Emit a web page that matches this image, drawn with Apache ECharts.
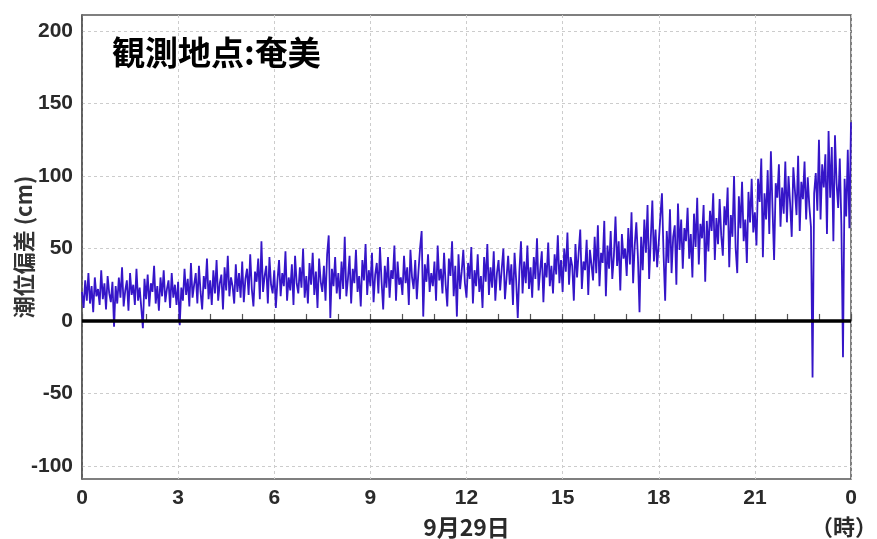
<!DOCTYPE html>
<html><head><meta charset="utf-8">
<script src="https://cdn.jsdelivr.net/npm/echarts@6/dist/echarts.min.js"></script>
<style>html,body{margin:0;padding:0;background:#fff}#c{width:877px;height:539px}</style>
</head><body><div id="c"></div>
<script>
// tide deviation (cm), 3-minute samples, Sep 29 0:00 -> 24:00
const h00_03 = [20, 9, 28, 14, 33, 12, 24, 6, 30, 17, 22, 11, 35, 15, 26, 8, 31, 19, 13, 27,
  -4, 24, 12, 30, 16, 37, 10, 21, 28, 7, 33, 18, 25, 11, 36, 14, 23, 9, -5, 29,
  15, 32, 10, 26, 20, 38, 12, 24, 7, 30, 17, 35, 13, 22, 28, 9, 33, 16, 25, 11];
const h03_06 = [27, -3, 23, 14, 36, 18, 29, 10, 40, 16, 25, 33, 12, 38, 20, 8, 31, 22, 43, 15,
  28, 11, 35, 19, 42, 14, 26, 32, 8, 37, 21, 45, 17, 30, 24, 12, 39, 20, 33, 16,
  41, 13, 29, 36, 18, 46, 22, 10, 34, 27, 43, 15, 55, 20, 31, 38, 12, 44, 25, 19];
const h06_09 = [35, 9, 28, 42, 17, 33, 24, 48, 14, 30, 21, 39, 11, 45, 26, 19, 37, 23, 50, 16,
  31, 12, 40, 25, 47, 18, 34, 9, 43, 27, 20, 38, 14, 46, 59, 2, 36, 24, 44, 19,
  33, 15, 41, 22, 58, 17, 29, 45, 12, 36, 26, 49, 20, 31, 10, 42, 28, 53, 18, 35];
const h09_12 = [24, 47, 13, 32, 40, 19, 51, 27, 8, 38, 23, 44, 16, 35, 29, 52, 14, 41, 25, 30,
  18, 45, 26, 37, 11, 49, 30, 22, 42, 15, 34, 50, 62, 3, 39, 27, 46, 20, 33, 24,
  41, 14, 52, 28, 36, 19, 47, 25, 10, 43, 31, 55, 17, 38, 3, 46, 22, 34, 49, 26];
const h12_15 = [16, 40, 29, 51, 12, 35, 24, 46, 20, 31, 9, 44, 27, 53, 18, 37, 23, 48, 14, 33,
  42, 21, 36, 50, 15, 30, 45, 25, 39, 11, 47, 28, 2, 34, 55, 19, 41, 26, 52, 22,
  37, 16, 44, 29, 57, 21, 35, 48, 13, 40, 30, 54, 24, 38, 19, 46, 32, 59, 26, 42];
const h15_18 = [20, 50, 34, 61, 25, 44, 38, 14, 53, 30, 47, 63, 22, 41, 35, 56, 18, 49, 39, 28,
  58, 33, 66, 24, 47, 40, 69, 17, 52, 36, 62, 29, 45, 72, 38, 55, 21, 60, 43, 50,
  31, 64, 39, 75, 26, 52, 68, 44, 6, 58, 35, 70, 47, 80, 29, 56, 83, 41, 63, 37];
const h18_21 = [54, 72, 88, 46, 14, 62, 40, 77, 33, 58, 66, 25, 81, 49, 70, 36, 64, 55, 78, 43,
  60, 30, 74, 51, 85, 39, 67, 57, 80, 27, 69, 48, 76, 62, 88, 42, 71, 53, 84, 59,
  45, 79, 66, 92, 37, 73, 58, 100, 50, 33, 86, 64, 96, 55, 70, 40, 89, 68, 98, 61];
const h21_24 = [75, 52, 98, 82, 112, 44, 88, 70, 104, 60, 117, 78, 42, 95, 85, 108, 65, 92, 74, 110,
  68, 100, 81, 58, 106, 90, 73, 114, 62, 96, 84, 110, 70, 99, 79, 65, -39, 88, 102, 76,
  125, 70, 108, 92, 115, 60, 131, 85, 120, 55, 128, 95, 78, 112, 66, -25, 98, 72, 118, 64];
const end24 = [137];
const stepMinutes = 3;
const yTickValues = [-100, -50, 0, 50, 100, 150, 200];
const titleText = '観測地点:奄美';
const yName = '潮位偏差 (cm)';
const xName = '9月29日';
const unitText = '（時）';

const values = [].concat(h00_03, h03_06, h06_09, h09_12, h12_15, h15_18, h18_21, h21_24, end24);
const seriesData = values.map((v, i) => [i * stepMinutes / 60, v]);

const chart = echarts.init(document.getElementById('c'), null, {renderer: 'canvas'});
const labelFont = {color: '#2a2a2a', fontSize: 21, fontWeight: 'bold', fontFamily: 'Liberation Sans'};
chart.setOption({
  animation: false,
  backgroundColor: '#fff',
  title: {text: titleText, left: 107, top: 31,
    textStyle: {fontSize: 33, fontWeight: 'bold', color: '#000', fontFamily: 'Noto Sans CJK JP'}},
  grid: {left: 82, right: 26, top: 15, bottom: 60, show: true, borderColor: '#555', borderWidth: 1.5,
    containLabel: false, outerBoundsMode: 'none'},
  xAxis: {
    type: 'value', min: 0, max: 24, interval: 3,
    name: xName, nameLocation: 'middle', nameGap: 37, nameMoveOverlap: false,
    nameTextStyle: {color: '#2a2a2a', fontSize: 23, fontWeight: 'bold', fontFamily: 'Noto Sans CJK JP'},
    axisLine: {show: true, lineStyle: {color: '#555', width: 1.5}},
    axisTick: {show: true, inside: true, length: 7, lineStyle: {color: '#555', width: 1.2}},
    minorTick: {show: true, splitNumber: 3, length: 7, lineStyle: {color: '#555', width: 1.2}},
    axisLabel: {...labelFont, margin: 9, formatter: v => String(v % 24)},
    splitLine: {show: true, lineStyle: {color: '#ccc', type: [3, 3], width: 1}}
  },
  yAxis: {
    type: 'value', min: -109, max: 211,
    name: yName, nameLocation: 'middle', nameGap: 47, nameMoveOverlap: false,
    nameTextStyle: {color: '#333', fontSize: 22, fontWeight: 'bold', fontFamily: 'Noto Sans CJK JP'},
    axisLine: {show: true, lineStyle: {color: '#555', width: 1.5}},
    axisTick: {show: false, customValues: yTickValues},
    axisLabel: {...labelFont, margin: 9, customValues: yTickValues},
    splitLine: {show: true, lineStyle: {color: '#ccc', type: [3, 3], width: 1}}
  },
  graphic: [{type: 'text', right: 0, top: 516,
    style: {text: unitText, fill: '#2a2a2a', font: 'bold 22px "Noto Sans CJK JP"'}}],
  series: [{
    type: 'line', data: seriesData, symbol: 'none',
    lineStyle: {color: '#3515c8', width: 1.8},
    markLine: {silent: true, symbol: 'none', label: {show: false},
      lineStyle: {color: '#000', width: 3.5, type: 'solid'},
      data: [{yAxis: 0}]}
  }]
});
</script></body></html>
